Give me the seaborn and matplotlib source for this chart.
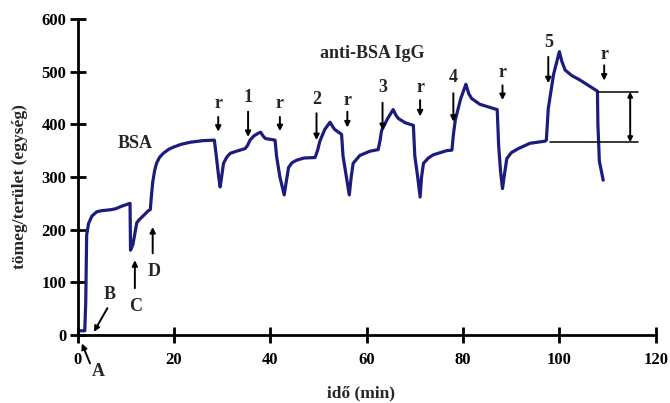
"""
Tomeg/terulet jel az ido fuggvenyeben (BSA + anti-BSA IgG)
"""

import numpy as np
import pandas as pd
import matplotlib
matplotlib.use('Agg')
import matplotlib.pyplot as plt
import seaborn as sns

sns.set_style('ticks')
plt.rcParams['font.family'] = ['Liberation Serif', 'DejaVu Serif']
plt.rcParams['font.weight'] = 'bold'

# Meresi gorbe (leolvasott pontok)
ido = [0.0, 1.5, 1.7, 1.9, 2.3, 3.0, 4.0, 5.0, 6.0, 7.0, 8.0, 9.0, 10.9,
       11.0, 11.5, 12.3, 12.7, 13.5, 14.7, 15.1, 15.3, 15.6, 16.0, 16.4,
       17.0, 17.8, 19.0, 20.0, 21.5, 23.4, 26.0, 28.4, 28.8, 29.3, 29.6,
       29.9, 30.3, 31.0, 31.7, 33.0, 34.8, 35.3, 35.8, 36.6, 37.5, 38.0,
       38.5, 39.0, 41.0, 41.3, 42.0, 42.9, 43.3, 43.8, 44.5, 45.5, 47.0,
       49.3, 49.8, 50.3, 51.3, 52.4, 53.0, 53.4, 54.8, 55.1, 55.8, 56.4,
       56.8, 57.2, 58.6, 60.7, 62.4, 62.8, 63.1, 64.3, 65.5, 66.1, 66.6,
       68.0, 69.7, 70.0, 70.6, 71.1, 71.4, 71.8, 72.8, 73.8, 76.6, 77.7,
       78.0, 78.4, 79.5, 80.6, 81.2, 81.8, 83.5, 86.7, 87.1, 87.4, 87.8,
       88.2, 88.6, 89.1, 90.0, 91.5, 93.9, 97.0, 97.3, 97.7, 98.8, 100.0,
       100.5, 101.2, 102.5, 104.3, 106.0, 107.9, 108.0, 108.3, 109.1]
tomeg = [8, 8, 60, 190, 212, 226, 234, 236, 237, 238, 240, 244, 250,
         161, 172, 213, 218, 225, 236, 238, 260, 290, 312, 326,
         337, 345, 353, 357, 362, 366, 369, 370, 340, 300, 281,
         300, 326, 338, 345, 349, 354, 360, 370, 378, 383, 385,
         378, 373, 370, 340, 300, 266, 290, 318, 327, 332, 336,
         337, 350, 368, 390, 404, 395, 390, 381, 340, 300, 266,
         300, 326, 341, 349, 352, 370, 388, 410, 428, 417, 411,
         403, 398, 340, 300, 262, 300, 326, 336, 342, 350, 351,
         380, 408, 448, 476, 458, 449, 438, 429, 428, 360, 310,
         278, 305, 335, 346, 354, 364, 368, 370, 430, 495, 538,
         520, 503, 493, 484, 474, 463, 400, 330, 294]

# Nyilak felirattal (felul)
felso_cimkek = ['r', '1', 'r', '2', 'r', '3', 'r', '4', 'r', '5', 'r']
felso_t = [29.2, 35.4, 42.0, 49.6, 56.0, 63.3, 71.1, 78.0, 88.2, 97.7, 109.3]
felso_cimke_y = [440, 450, 440, 448, 446, 469, 470, 489, 499, 556, 532]
felso_nyil_tol = [414, 424, 414, 421, 424, 441, 446, 459, 474, 528, 512]
felso_nyil_ig = [386, 376, 387, 370, 394, 389, 415, 405, 446, 478, 483]

# Also nyilak (A-D)
also_cimkek = ['A', 'B', 'C', 'D']
also_cimke_xy = [(4.3, -70), (6.7, 76), (12.1, 54), (15.9, 120)]
also_nyil_tol = [(2.6, -54), (6.2, 51), (11.9, 89), (15.6, 155)]
also_nyil_ig = [(0.9, -16), (3.4, 6), (11.9, 142), (15.6, 205)]

# Jelvaltozas meroje (5. minta)
szint_felso = 462
szint_also = 366

df = pd.DataFrame({'ido': ido, 'tomeg': tomeg})

fig = plt.figure(figsize=(6.7, 4.03), dpi=100)
ax = fig.add_axes([0.1157, 0.1687, 0.8630, 0.7842])

sns.lineplot(data=df, x='ido', y='tomeg', ax=ax, sort=False, estimator=None,
             color='#1c1c7e', linewidth=2.3)

ax.set_xlim(0, 120)
ax.set_ylim(0, 600)
ax.set_xticks(np.arange(0, 121, 20))
ax.set_yticks(np.arange(0, 601, 100))
ax.tick_params(direction='inout', length=12, width=2, labelsize=12, colors='black')
for lab in ax.get_xticklabels() + ax.get_yticklabels():
    lab.set_fontweight('bold')
ax.tick_params(axis='x', pad=6)
ax.tick_params(axis='y', pad=2)
for s in ['left', 'bottom']:
    ax.spines[s].set_linewidth(2)
    ax.spines[s].set_color('black')
sns.despine(ax=ax)

ax.set_xlabel('idő (min)', fontsize=12.5, fontweight='bold', va='center')
ax.xaxis.set_label_coords(0.491, -0.184)
ax.set_ylabel('tömeg/terület (egység)', fontsize=12.5, fontweight='bold', va='center')
ax.yaxis.set_label_coords(-0.0995, 0.47)

nyil = dict(arrowstyle='-|>', color='black', lw=1.4, mutation_scale=8,
            shrinkA=0, shrinkB=0)

for lab, t, ly, y0, y1 in zip(felso_cimkek, felso_t, felso_cimke_y,
                               felso_nyil_tol, felso_nyil_ig):
    ax.text(t, ly, lab, ha='center', va='center', fontsize=13, fontweight='bold')
    ax.annotate('', xy=(t, y1), xytext=(t, y0), arrowprops=nyil,
                annotation_clip=False)

for lab, (tx, ty), p0, p1 in zip(also_cimkek, also_cimke_xy, also_nyil_tol, also_nyil_ig):
    ax.text(tx, ty, lab, ha='center', va='center', fontsize=13,
            fontweight='bold', clip_on=False)
    ax.annotate('', xy=p1, xytext=p0, arrowprops=nyil, annotation_clip=False)

ax.text(11.9, 364, 'BSA', ha='center', va='center', fontsize=13, fontweight='bold')
ax.text(61.2, 534, 'anti-BSA IgG', ha='center', va='center', fontsize=13,
        fontweight='bold')

# szintkulonbseg jelolese
ax.plot([108.1, 116.4], [szint_felso, szint_felso], color='black', lw=1.1)
ax.plot([98.0, 116.4], [szint_also, szint_also], color='black', lw=1.1)
ax.annotate('', xy=(114.7, szint_felso), xytext=(114.7, szint_also),
            arrowprops=dict(arrowstyle='<|-|>', color='black', lw=1.4,
                            mutation_scale=7, shrinkA=0, shrinkB=0))

fig.savefig('out.png', dpi=100)
